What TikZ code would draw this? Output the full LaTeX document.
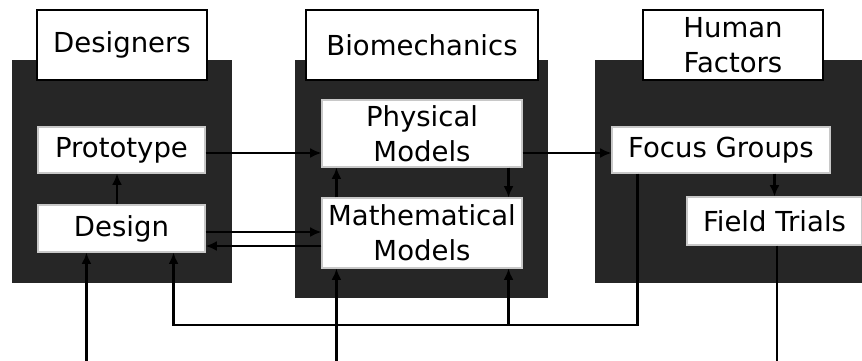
\documentclass[tikz,border=0pt]{standalone}
\usepackage{fontspec}
\setsansfont{DejaVu Sans}
\usetikzlibrary{
  arrows.meta,
  calc,
  positioning
}
\definecolor{zoneInk}{HTML}{262626}
\definecolor{edgeGrey}{HTML}{C8C8C8}
\tikzset{
  every node/.style={font=\sffamily\fontsize{23.5}{30}\selectfont, text=black},
  zone/.style={
    draw=none,
    fill=zoneInk,
    inner sep=0pt
  },
  tag/.style={
    draw=black,
    line width=0.9pt,
    fill=white,
    inner sep=0pt,
    align=center
  },
  task/.style={
    tag,
    draw=edgeGrey
  },
  wire/.style={
    line width=1.9pt,
    draw=black
  },
  link/.style={
    wire,
    -{Latex[length=3.4mm,width=3mm]}
  }
}

\begin{document}
\begin{tikzpicture}[x=0.03cm, y=-0.03cm]
  \useasboundingbox (0,0) rectangle (862,360);

  % dark work areas
  \node[zone, minimum width=6.6cm, minimum height=6.69cm] (designers) at (122,171.5) {};
  \node[zone, minimum width=7.59cm, minimum height=7.14cm] (biomech) at (421.5,179) {};
  \node[zone, minimum width=8.01cm, minimum height=6.69cm] (humanf) at (728.5,171.5) {};

  % headings
  \node[tag, minimum width=5.1cm, minimum height=2.1cm] (designersTag) at (122,45) {Designers};
  \node[tag, minimum width=6.96cm, minimum height=2.1cm] (biomechTag) at (422,45) {Biomechanics};
  \node[tag, minimum width=5.4cm, minimum height=2.1cm] (humanfTag) at (733,45) {Human\\Factors};

  % activities
  \node[task, minimum width=5.01cm, minimum height=1.38cm] (proto) at (121.5,150) {Prototype};
  \node[task, minimum width=5.01cm, minimum height=1.41cm] (design) at (121.5,228.5) {Design};
  \node[task, minimum width=6cm, minimum height=2.01cm] (phys) at (422,133.5) {Physical\\Models};
  \node[task, minimum width=6cm, minimum height=2.1cm] (math) at (422,233) {Mathematical\\Models};
  \node[task, minimum width=6.54cm, minimum height=1.38cm] (focus) at (721,150) {Focus Groups};
  \node[task, minimum width=5.25cm, minimum height=1.44cm] (trials) at (774.5,221) {Field Trials};

  % helper points
  \coordinate (base) at (0,362);
  \coordinate (loop) at (0,325);
  \coordinate (pp) at ($(proto.east)+(0,3)$);
  \coordinate (pf) at ($(focus.west)+(0,3)$);
  \coordinate (dm) at ($(design.east)+(0,3.5)$);
  \coordinate (md) at ($(design.east)+(0,17.5)$);
  \coordinate (dIn) at ($(design.south west)+(49,0)$);
  \coordinate (dBack) at ($(design.south east)+(-32,0)$);
  \coordinate (mathL) at ($(math.south west)+(15,0)$);
  \coordinate (mathR) at ($(math.south east)+(-14,0)$);
  \coordinate (focusOut) at ($(focus.south west)+(26,0)$);
  \coordinate (trialsOut) at ($(trials.south)+(2.5,0)$);

  \draw[link] ([xshift=-0.135cm]design.north) -- ([xshift=-0.135cm]proto.south);
  \draw[link] (pp) -- (pp -| phys.west);
  \draw[link] (pf -| phys.east) -- (pf);
  \draw[link] (mathL |- math.north) -- (mathL |- phys.south);
  \draw[link] (mathR |- phys.south) -- (mathR |- math.north);
  \draw[link] (dm) -- (dm -| math.west);
  \draw[link] (md -| math.west) -- (md);
  \draw[link] (focus.south -| trials.north) -- (trials.north);

  % feedback from the focus groups
  \draw[link] (focusOut) -- (focusOut |- loop) -| (dBack);
  \draw[link] (mathR |- loop) -- (mathR);

  % inputs and output at the foot
  \draw[link] (dIn |- base) -- (dIn);
  \draw[link] (mathL |- base) -- (mathL);
  \draw[wire] (trialsOut) -- (trialsOut |- base);
\end{tikzpicture}
\end{document}
